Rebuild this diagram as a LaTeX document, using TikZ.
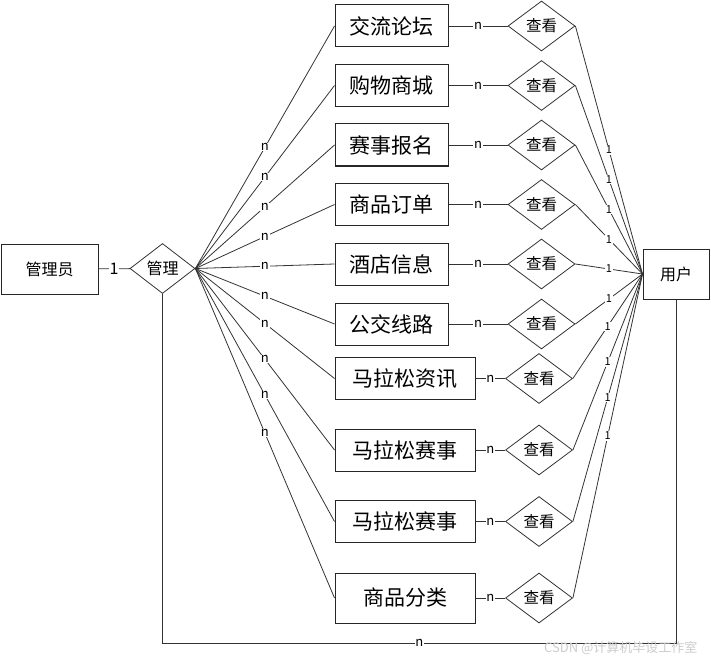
\documentclass[tikz,border=0pt]{standalone}
\usepackage{fontspec}
\setmainfont{Noto Sans CJK SC}
\usetikzlibrary{shapes.geometric}

\begin{document}
\begin{tikzpicture}[x=1pt, y=-1pt,
  entity/.style={draw=black!85, line width=1pt, inner sep=0pt, font=\fontsize{21}{21}\selectfont},
  relation/.style={draw=black!80, diamond, line width=0.8pt, inner sep=0pt, font=\fontsize{15.5}{16}\selectfont},
  link/.style={draw=black!80, line width=0.8pt},
  card/.style={fill=white, inner sep=0.6pt, font=\fontsize{13}{13}\selectfont}]

  \useasboundingbox (0,0) rectangle (711,663);

  \node[entity, minimum width=97pt, minimum height=50pt, font=\fontsize{16}{16}\selectfont] (admin) at (49.5,269) {管理员};
  \node[relation, minimum width=65pt, minimum height=50pt, font=\fontsize{16}{16}\selectfont] (manage) at (162.5,268.5) {管理};
  \node[entity, minimum width=66pt, minimum height=50pt, font=\fontsize{16}{16}\selectfont] (user) at (676,274) {用户};

  \draw[link] (admin) -- node[card, font=\fontsize{16}{16}\selectfont] {1} (manage);

  \foreach \id/\txt/\yy/\ww/\hh/\dx in {
    forum/交流论坛/26/113/42/541.5,
    mall/购物商城/85.5/113/42/541.5,
    signup/赛事报名/145/113/42/541.5,
    order/商品订单/204.5/113/42/541.5,
    hotel/酒店信息/264/113/42/541.5,
    bus/公交线路/324/113/42/541.5,
    news/马拉松资讯/378.5/140/42/539,
    race/马拉松赛事/450/140/42/539,
    racetwo/马拉松赛事/521.5/140/42/539,
    category/商品分类/598/140/50/539}
  {
    \node[entity, minimum width=\ww pt, minimum height=\hh pt] (\id) at (335+\ww/2,\yy) {\txt};
    \node[relation, minimum width=67pt, minimum height=50pt] (\id-v) at (\dx,\yy) {查看};
    \draw[link] (manage.east) -- node[card] {n} (\id.west);
    \draw[link] (\id) -- node[card] {n} (\id-v);
    \draw[link] (\id-v.east) -- node[card, font=\fontsize{11}{11}\selectfont] {1} (user.west);
  }

  \coordinate (corner) at (user.south |- 0,643);
  \draw[link] (manage.south) |- node[card, pos=0.75] {n} (corner) -- (user.south);

  \node[text=black!20, font=\fontsize{13}{13}\selectfont, anchor=east] (mark) at (701,648) {CSDN @计算机毕设工作室};

\end{tikzpicture}
\end{document}
